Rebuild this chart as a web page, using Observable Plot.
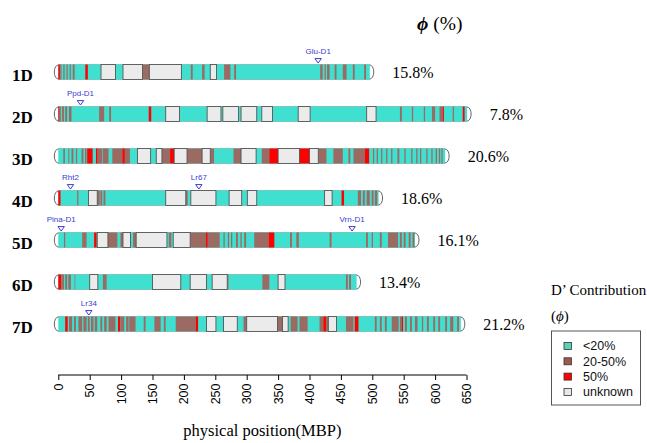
<!DOCTYPE html>
<html><head><meta charset="utf-8">
<script src="https://cdn.jsdelivr.net/npm/d3@7"></script>
<script src="https://cdn.jsdelivr.net/npm/@observablehq/plot@0.6"></script>
<style>body{margin:0;background:#fff} svg{display:block}</style>
</head><body><div id="chart"></div>
<script>
// ---- data ----
const chroms = ["1D","2D","3D","4D","5D","6D","7D"];
const lengths = [496, 651, 616, 510, 568, 475, 641];           // MBP
const phiPct = ["15.8%","7.8%","20.6%","18.6%","16.1%","13.4%","21.2%"];
const tickValues = [0,50,100,150,200,250,300,350,400,450,500,550,600,650];

// segments [start, end, code]; code M = 20-50%, H = 50%, U = unknown (rest is <20%)
const seg1D = [[0,2.5,"H"],[3,5,"M"],[8,10,"M"],[13,15,"M"],[18,20,"M"],[23,26,"M"],[43,47,"H"],
  [68,91,"U"],[103,134,"U"],[134,145,"M"],[145,196,"U"],[211,214,"M"],[229,233,"M"],[242,252,"U"],
  [264,274,"M"],[280,283,"M"],[417,421,"M"],[424,426,"M"],[428,432,"M"],[440,443,"M"],[453,459,"M"],
  [469,472,"M"],[487,490,"M"]];
const seg2D = [[0,2,"H"],[2,4,"M"],[6,9,"M"],[11,14,"M"],[17,21,"M"],[65,73,"M"],[81,84,"M"],[144,148,"H"],
  [171,193,"U"],[237,259,"U"],[262,287,"U"],[291,316,"U"],[324,341,"U"],[382,401,"U"],[491,506,"U"],
  [544,547,"M"],[563,565,"M"],[582,584,"M"],[595,600,"M"],[607,612,"M"],[612,614,"H"],[628,630,"M"],[644,647,"H"]];
const seg3D = [[8,10.5,"M"],[16,17.5,"M"],[21,24,"M"],[28,30,"M"],[37,40,"M"],[42.5,45,"M"],[46,54.7,"H"],
  [60,62.7,"H"],[62.7,70,"M"],[71,80,"M"],[86,102,"M"],[102,106,"H"],[106,114,"M"],[126,147,"U"],[156,165,"U"],
  [165,178,"M"],[178,184.5,"H"],[184.5,205,"U"],[205,229,"M"],[229,242,"U"],[242,248,"M"],[279,291,"M"],
  [291,315,"U"],[324,336,"M"],[336,350,"H"],[350,384,"U"],[384,400,"H"],[400,414,"U"],[414,427,"M"],
  [438,453,"M"],[462,465,"M"],[470,488,"M"],[488,495,"H"],[501,503,"M"],[507,509,"M"],[514,516,"M"],
  [522,524,"M"],[530,532,"M"],[540,543,"M"],[551,553,"M"],[562,564,"M"],[570,572,"M"],[576,578,"M"],
  [586,588,"M"],[594,596,"M"],[601,603,"M"],[606,608,"M"],[610,612,"M"]];
const seg4D = [[0,3.5,"H"],[30,32,"M"],[48,62,"U"],[62,66,"M"],[67,70,"M"],[72,75,"M"],[171,203,"U"],
  [203,206,"M"],[211,251,"U"],[272,292,"U"],[301,316,"U"],[424,436,"U"],[451,455,"H"],[477,482,"M"],
  [485,488,"M"],[491,496,"M"],[499,502,"M"],[504,508,"M"]];
const seg5D = [[9,11,"M"],[38,45,"M"],[57,61,"H"],[62,79,"U"],[79,94,"M"],[99,103,"M"],[103,115,"U"],
  [119,124,"M"],[124,173,"U"],[176,180,"M"],[183,210,"U"],[210,235,"M"],[235,238,"H"],[238,257,"M"],
  [263,265,"M"],[270,272,"M"],[275,277,"M"],[283,286,"M"],[290,292,"M"],[296,299,"M"],[312,335,"M"],
  [335,344,"H"],[369,372,"M"],[379,383,"M"],[432,435,"M"],[490,493,"M"],[499,501,"M"],[512,515,"M"],
  [525,541,"M"],[544,547,"M"],[550,553,"M"],[558,561,"M"],[564,567,"M"]];
const seg6D = [[0,5,"H"],[6,9,"M"],[11,14,"M"],[16,20,"M"],[26,27,"M"],[50,63,"U"],[71,77,"M"],
  [150,195,"U"],[210,236,"U"],[245,269,"U"],[269,271,"M"],[325,336,"M"],[350,361,"U"],[458,461,"M"],[463,466,"M"]];
const seg7D = [[11,15,"H"],[17,22,"M"],[25,28,"M"],[32,38,"M"],[40,45,"M"],[47,50,"M"],[52,56,"M"],
  [58,62,"M"],[67,70,"M"],[73,77,"M"],[80,91,"M"],[95,99,"H"],[100,105,"M"],[108,112,"M"],[113,123,"M"],
  [136,139,"M"],[153,163,"M"],[168,171,"M"],[187,219,"M"],[219,222.6,"H"],[236,251,"U"],[263,285,"U"],
  [295,300,"M"],[300,349,"U"],[349,357,"M"],[357,366,"U"],[370,381,"M"],[384,397,"M"],[416,422,"M"],
  [422,427,"H"],[427,430,"M"],[430,443,"U"],[458,470,"M"],[472,478,"H"],[504,507,"M"],[512,515,"M"],
  [520,523,"M"],[531,542,"M"],[544,547,"M"],[547,549,"H"],[552,555,"M"],[560,563,"M"],[568,572,"M"],
  [579,581,"M"],[587,590,"M"],[597,600,"M"],[605,608,"M"],[616,619,"M"],[624,629,"M"],[635,638,"M"]];

const markerNames = ["Glu-D1","Ppd-D1","Rht2","Lr67","Pina-D1","Vrn-D1","Lr34"];
const markerChroms = ["1D","2D","4D","4D","5D","5D","7D"];
const markerPos = [413, 34.5, 18.6, 223, 3.8, 467, 47.8];

const legendLabels = ["<20%","20-50%","50%","unknown"];
const legendColors = ["#52d6b4","#a05a4c","#ff0000","#e8e8e8"];

// ---- tables ----
const codeColor = {M: "#9b6a62", H: "#ff0000", U: "#ebebeb"};
const chromTable = chroms.map((c,i)=>({chrom:c, start:0, len:lengths[i], pct:phiPct[i]}));
const segs = [seg1D,seg2D,seg3D,seg4D,seg5D,seg6D,seg7D]
  .flatMap((arr,i)=>arr.map(([s,e,c])=>({chrom:chroms[i], s, e, c})));
const colored = segs.filter(d=>d.c!=="U");
const unknown = segs.filter(d=>d.c==="U");
const markers = markerNames.map((n,i)=>({name:n, chrom:markerChroms[i], pos:markerPos[i]}));

const serif = "'Liberation Serif','Times New Roman','DejaVu Serif',serif";
const sans = "'Liberation Sans',Arial,'DejaVu Sans',sans-serif";
const blue = "#3b3bcf";
const downTri = {draw(ctx, size){ const r=Math.sqrt(size/Math.PI);
  ctx.moveTo(-r,-r*0.6); ctx.lineTo(r,-r*0.6); ctx.lineTo(0,r*0.8); ctx.closePath(); }};

const inset = 13.5;
const chart = Plot.plot({
  width: 647, height: 443,
  marginLeft: 58.3, marginRight: 180.5, marginTop: 0, marginBottom: 68,
  x: {domain: [0,650]},
  y: {type: "band", domain: chroms, range: [50.5, 344.7], padding: 0},
  style: {background: "white", color: "black"},
  marks: [
    Plot.axisX({ticks: tickValues, tickRotate: -90, tickSize: 5, tickPadding: 3, fontSize: 12.5,
      fontFamily: sans, label: null}),
    Plot.axisY({tickSize: 0, tickPadding: 26, fontSize: 17, fontWeight: "bold", fontFamily: serif,
      label: null, dy: 3}),
    // rounded chromosome ends
    Plot.barX(chromTable, {x1: "start", x2: "len", y: "chrom", fill: "white", stroke: "#666", strokeWidth: 1,
      insetLeft: -4, insetRight: -4, insetTop: 14, insetBottom: 14, rx: 4, ry: 7}),
    // <20% base
    Plot.barX(chromTable, {x1: "start", x2: "len", y: "chrom", fill: "#40e0d0", insetTop: inset, insetBottom: inset}),
    Plot.barX(colored, {x1: "s", x2: "e", y: "chrom", fill: d=>codeColor[d.c], insetTop: inset, insetBottom: inset}),
    Plot.barX(unknown, {x1: "s", x2: "e", y: "chrom", fill: codeColor.U, stroke: "#555", strokeWidth: 0.9,
      insetTop: inset, insetBottom: inset}),
    Plot.dot(markers, {x: "pos", y: "chrom", symbol: downTri, r: 3.2, stroke: blue, fill: "white", strokeWidth: 1, dy: -12}),
    Plot.text(markers, {x: "pos", y: "chrom", text: "name", dy: -21, fontSize: 8, fill: blue, fontFamily: sans}),
    Plot.text(chromTable, {x: "len", y: "chrom", text: "pct", dx: 22, textAnchor: "start", fontSize: 16, fontFamily: serif})
  ]
});
document.getElementById("chart").append(chart);

// ---- annotations ----
const svg = d3.select(chart);
const xs = chart.scale("x");
svg.selectAll("g[aria-label='y-axis tick label'] text").attr("font-weight","bold");
svg.append("line").attr("x1", xs.apply(0)).attr("x2", xs.apply(650)).attr("y1", 375).attr("y2", 375)
  .attr("stroke","black").attr("stroke-width",1);
svg.append("text").attr("x", (xs.apply(0)+xs.apply(650))/2).attr("y", 436).attr("text-anchor","middle")
  .attr("font-family", serif).attr("font-size", 16.5).attr("fill","black").text("physical position(MBP)");
const title = svg.append("text").attr("x", 417).attr("y", 30).attr("text-anchor","start")
  .attr("font-family", serif).attr("font-size", 19.5).attr("fill","black");
title.append("tspan").attr("font-weight","bold").attr("font-style","italic").text("ϕ");
title.append("tspan").text(" (%)");
svg.append("text").attr("x", 551).attr("y", 295).attr("text-anchor","start")
  .attr("font-family", serif).attr("font-size", 15).attr("fill","black").text("D’ Contribution");
const sub = svg.append("text").attr("x", 551).attr("y", 321).attr("text-anchor","start")
  .attr("font-family", serif).attr("font-size", 15).attr("fill","black");
sub.append("tspan").text("(");
sub.append("tspan").attr("font-style","italic").text("ϕ");
sub.append("tspan").text(")");
const lg = svg.append("g").attr("text-anchor","start");
lg.append("rect").attr("x", 551.5).attr("y", 331).attr("width", 89).attr("height", 74)
  .attr("fill","white").attr("stroke","#555").attr("stroke-width",1);
legendLabels.forEach((lab,i)=>{
  const cy = 346 + i*15.3;
  lg.append("rect").attr("x", 564).attr("y", cy-3.5).attr("width", 7.5).attr("height", 7)
    .attr("fill", legendColors[i]).attr("stroke","#333").attr("stroke-width",0.8);
  lg.append("text").attr("x", 583).attr("y", cy).attr("dy","0.35em").attr("text-anchor","start")
    .attr("font-family", sans).attr("font-size", 12.5).attr("fill","#111").text(lab);
});
</script>
</body></html>
